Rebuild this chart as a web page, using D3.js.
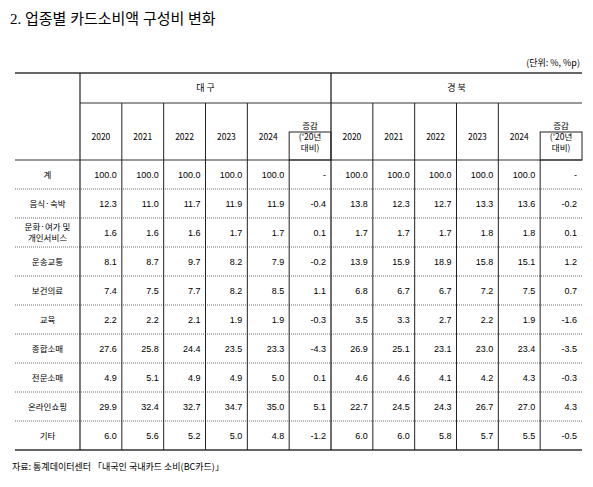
<!DOCTYPE html>
<html><head><meta charset="utf-8">
<script src="https://cdn.jsdelivr.net/npm/d3@7"></script>
<style>body{margin:0;background:#fff}</style>
</head><body><div id="chart"></div>
<script>
const regions = ["대구", "경북"];
const colLabels = ["2020", "2021", "2022", "2023", "2024", "증감|('20년|대비)"];
const categories = ["계", "음식·숙박", "문화·여가 및|개인서비스", "운송교통", "보건의료", "교육", "종합소매", "전문소매", "온라인쇼핑", "기타"];
const daegu = [
  ["100.0","100.0","100.0","100.0","100.0","-"],
  ["12.3","11.0","11.7","11.9","11.9","-0.4"],
  ["1.6","1.6","1.6","1.7","1.7","0.1"],
  ["8.1","8.7","9.7","8.2","7.9","-0.2"],
  ["7.4","7.5","7.7","8.2","8.5","1.1"],
  ["2.2","2.2","2.1","1.9","1.9","-0.3"],
  ["27.6","25.8","24.4","23.5","23.3","-4.3"],
  ["4.9","5.1","4.9","4.9","5.0","0.1"],
  ["29.9","32.4","32.7","34.7","35.0","5.1"],
  ["6.0","5.6","5.2","5.0","4.8","-1.2"]
];
const gyeongbuk = [
  ["100.0","100.0","100.0","100.0","100.0","-"],
  ["13.8","12.3","12.7","13.3","13.6","-0.2"],
  ["1.7","1.7","1.7","1.8","1.8","0.1"],
  ["13.9","15.9","18.9","15.8","15.1","1.2"],
  ["6.8","6.7","6.7","7.2","7.5","0.7"],
  ["3.5","3.3","2.7","2.2","1.9","-1.6"],
  ["26.9","25.1","23.1","23.0","23.4","-3.5"],
  ["4.6","4.6","4.1","4.2","4.3","-0.3"],
  ["22.7","24.5","24.3","26.7","27.0","4.3"],
  ["6.0","6.0","5.8","5.7","5.5","-0.5"]
];
const title = "2. 업종별 카드소비액 구성비 변화";
const unit = "(단위: %, %p)";
const source = "자료: 통계데이터센터 「내국인 국내카드 소비(BC카드)」";

const W = 593, H = 487, font = "'Noto Sans CJK KR', sans-serif";
const svg = d3.select("#chart").append("svg").attr("width", W).attr("height", H)
  .style("font-family", font);

const left = 15, labelRight = 80, right = 582;
const tableTop = 73, regionBottom = 103, headBottom = 160, tableBottom = 450;
const cols = [];
regions.forEach(r => colLabels.forEach((c, i) => cols.push(r + i)));
const x = d3.scaleBand().domain(cols).range([labelRight, right]);
const y = d3.scaleBand().domain(categories).range([headBottom, tableBottom]);

svg.append("text").attr("x", 10).attr("y", 24).attr("font-size", 15)
  .attr("font-family", "'Liberation Serif', 'Noto Sans CJK KR', serif").text(title);
svg.append("text").attr("x", 580).attr("y", 66).attr("text-anchor", "end")
  .attr("font-size", 9).text(unit);

// horizontal lines
svg.append("line").attr("x1", left).attr("x2", right).attr("y1", tableTop).attr("y2", tableTop)
  .attr("stroke", "#333").attr("stroke-width", 1.5);
svg.append("line").attr("x1", labelRight).attr("x2", right).attr("y1", regionBottom).attr("y2", regionBottom)
  .attr("stroke", "#333");
svg.append("line").attr("x1", left).attr("x2", right).attr("y1", headBottom).attr("y2", headBottom)
  .attr("stroke", "#333").attr("stroke-width", 1.2);
svg.append("line").attr("x1", left).attr("x2", right).attr("y1", tableBottom).attr("y2", tableBottom)
  .attr("stroke", "#333").attr("stroke-width", 1.5);
svg.selectAll(".dot").data(categories.slice(1)).join("line")
  .attr("x1", left).attr("x2", right)
  .attr("y1", d => y(d)).attr("y2", d => y(d))
  .attr("stroke", "#444").attr("stroke-width", 0.8).attr("stroke-dasharray", "1,1");

// vertical lines
svg.append("line").attr("x1", labelRight).attr("x2", labelRight).attr("y1", tableTop).attr("y2", tableBottom)
  .attr("stroke", "#222").attr("stroke-width", 1.2);
cols.forEach((c, i) => {
  if (i === 0) return;
  const idx = i % 6;
  if (idx === 5) return; // change column has inner box instead
  const xx = x(c);
  svg.append("line").attr("x1", xx).attr("x2", xx)
    .attr("y1", idx === 0 ? tableTop : regionBottom).attr("y2", tableBottom)
    .attr("stroke", "#222").attr("stroke-width", idx === 0 ? 1.3 : 1);
});
// change columns: boxed header, border below
regions.forEach(r => {
  const xx = x(r + 5);
  svg.append("rect").attr("x", xx).attr("y", 132).attr("width", x.bandwidth())
    .attr("height", headBottom - 132).attr("fill", "none").attr("stroke", "#222");
  svg.append("line").attr("x1", xx).attr("x2", xx).attr("y1", headBottom).attr("y2", tableBottom)
    .attr("stroke", "#222");
});

// region headers
regions.forEach(r => {
  svg.append("text").attr("x", (x(r + 0) + x(r + 5) + x.bandwidth()) / 2)
    .attr("y", (tableTop + regionBottom) / 2 + 3).attr("text-anchor", "middle")
    .attr("font-size", 9).text(r.split("").join(" "));
});
// column headers
cols.forEach((c, i) => {
  const lines = colLabels[i % 6].split("|");
  const cx = x(c) + x.bandwidth() / 2;
  const t = svg.append("text").attr("text-anchor", "middle").attr("font-size", 8.5);
  lines.forEach((l, k) => t.append("tspan").attr("x", cx)
    .attr("y", 137 + (k - (lines.length - 1) / 2) * 11 + 3).text(l));
});
// row labels
categories.forEach(cat => {
  const lines = cat.split("|");
  const cy = y(cat) + y.bandwidth() / 2;
  const t = svg.append("text").attr("text-anchor", "middle").attr("font-size", 8.5);
  lines.forEach((l, k) => t.append("tspan").attr("x", (left + labelRight) / 2)
    .attr("y", cy + (k - (lines.length - 1) / 2) * 11 + 3).text(l));
});
// values
[daegu, gyeongbuk].forEach((tbl, ri) => {
  tbl.forEach((row, j) => row.forEach((v, k) => {
    svg.append("text").attr("x", x(regions[ri] + k) + x.bandwidth() - 5)
      .attr("y", y(categories[j]) + y.bandwidth() / 2 + 3)
      .attr("text-anchor", "end").attr("font-size", 9)
      .attr("font-family", "'Liberation Sans', sans-serif").text(v);
  }));
});

svg.append("text").attr("x", 12).attr("y", 470).attr("font-size", 9).text(source);
</script></body></html>
